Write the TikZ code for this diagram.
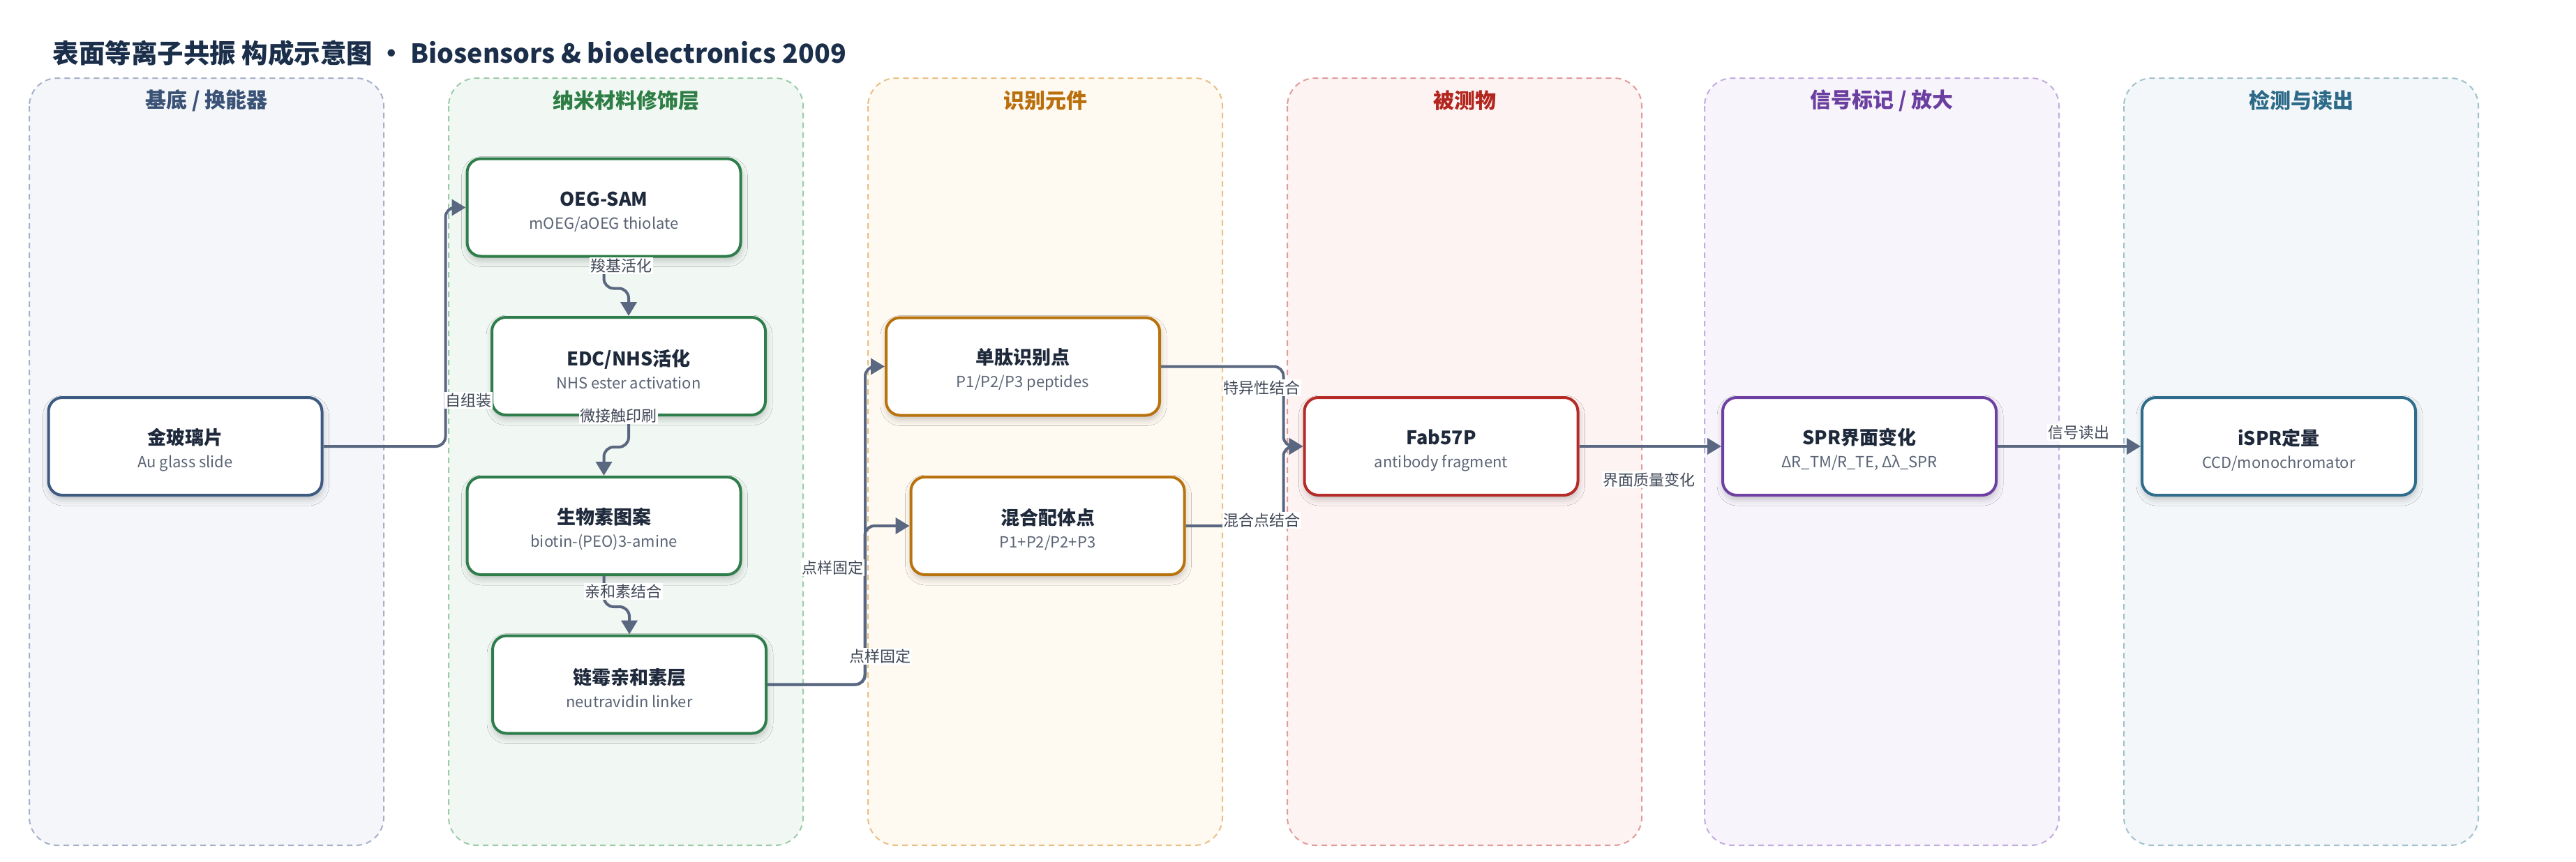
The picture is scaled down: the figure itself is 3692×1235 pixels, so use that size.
\documentclass[tikz,border=0pt]{standalone}
\usepackage{fontspec}
\setmainfont{Noto Sans CJK SC}
\usetikzlibrary{arrows.meta,shadows.blur}
\definecolor{titlec}{HTML}{1B2F4B}
\definecolor{ttl}{HTML}{1E293B}
\definecolor{subc}{HTML}{5B6475}
\definecolor{lblc}{HTML}{3F4756}
\definecolor{connc}{HTML}{5A6780}
\definecolor{laA}{HTML}{F4F6FA}\definecolor{lbA}{HTML}{A5B1C8}\definecolor{ltA}{HTML}{3A5275}\definecolor{nbA}{HTML}{3D5A80}
\definecolor{laB}{HTML}{F1F8F3}\definecolor{lbB}{HTML}{9DCBA9}\definecolor{ltB}{HTML}{2E7D45}\definecolor{nbB}{HTML}{2E7D4B}
\definecolor{laC}{HTML}{FEF9F1}\definecolor{lbC}{HTML}{E9C083}\definecolor{ltC}{HTML}{B96F0C}\definecolor{nbC}{HTML}{B8730E}
\definecolor{laD}{HTML}{FDF3F3}\definecolor{lbD}{HTML}{E29B9B}\definecolor{ltD}{HTML}{B3261E}\definecolor{nbD}{HTML}{B42B27}
\definecolor{laE}{HTML}{F7F4FB}\definecolor{lbE}{HTML}{C3ACE0}\definecolor{ltE}{HTML}{6B3FA0}\definecolor{nbE}{HTML}{6E40A2}
\definecolor{laF}{HTML}{F3F7F9}\definecolor{lbF}{HTML}{A3C1CD}\definecolor{ltF}{HTML}{2D6A89}\definecolor{nbF}{HTML}{2F6D8C}
\newcommand\ndtxt[2]{{\fontsize{27pt}{33pt}\selectfont\bfseries\color{ttl}\rule{0pt}{33pt}#1}\\{\fontsize{22pt}{33pt}\selectfont\color{subc}#2}}
\begin{document}
\begin{tikzpicture}[x=1pt,y=-1pt,
  lane/.style={line width=2pt, dash pattern=on 8pt off 6pt, rounded corners=40pt},
  lanetitle/.style={font=\fontsize{30pt}{36pt}\selectfont\bfseries},
  box/.style={draw, fill=white, line width=4pt, rounded corners=20pt, minimum width=392pt, minimum height=140pt, align=center, inner sep=0pt,
    font=\fontsize{22pt}{33pt}\selectfont,
    blur shadow={shadow xshift=1pt, shadow yshift=-6pt, shadow blur radius=9pt, shadow opacity=22}},
  conn/.style={draw=connc, line width=4pt, rounded corners=14pt, -{Triangle[length=20pt,width=23pt]}},
  lbl/.style={fill=white, inner sep=1.5pt, text=lblc, font=\fontsize{22pt}{26pt}\selectfont}
]
\useasboundingbox (0,0) rectangle (3692,1235);
\fill[white] (0,0) rectangle (3692,1235);

\node[anchor=west, text=titlec, font=\fontsize{37.5pt}{44pt}\selectfont\bfseries] (title) at (72,76) {表面等离子共振 构成示意图 • Biosensors \& bioelectronics 2009};

% lanes
\draw[lane, draw=lbA, fill=laA] (42,112) rectangle (550,1212);
\draw[lane, draw=lbB, fill=laB] (643,112) rectangle (1151,1212);
\draw[lane, draw=lbC, fill=laC] (1244,112) rectangle (1752,1212);
\draw[lane, draw=lbD, fill=laD] (1845,112) rectangle (2353,1212);
\draw[lane, draw=lbE, fill=laE] (2443,112) rectangle (2951,1212);
\draw[lane, draw=lbF, fill=laF] (3044,112) rectangle (3552,1212);
\node[lanetitle, text=ltA] (tA) at (296,144) {基底 / 换能器};
\node[lanetitle, text=ltB] (tB) at (897,144) {纳米材料修饰层};
\node[lanetitle, text=ltC] (tC) at (1498,144) {识别元件};
\node[lanetitle, text=ltD] (tD) at (2099,144) {被测物};
\node[lanetitle, text=ltE] (tE) at (2697,144) {信号标记 / 放大};
\node[lanetitle, text=ltF] (tF) at (3298,144) {检测与读出};

% nodes
\node[box, draw=nbA] (au) at (265.5,640) {\ndtxt{金玻璃片}{Au glass slide}};
\node[box, draw=nbB] (oeg) at (865.5,297.5) {\ndtxt{OEG-SAM}{mOEG/aOEG thiolate}};
\node[box, draw=nbB] (edc) at (901,525) {\ndtxt{EDC/NHS活化}{NHS ester activation}};
\node[box, draw=nbB] (bio) at (865.5,754) {\ndtxt{生物素图案}{biotin-(PEO)3-amine}};
\node[box, draw=nbB] (nav) at (902,981.5) {\ndtxt{链霉亲和素层}{neutravidin linker}};
\node[box, draw=nbC] (pep) at (1466,525.5) {\ndtxt{单肽识别点}{P1/P2/P3 peptides}};
\node[box, draw=nbC] (mix) at (1501.5,754) {\ndtxt{混合配体点}{P1+P2/P2+P3}};
\node[box, draw=nbD] (fab) at (2065.5,640) {\ndtxt{Fab57P}{antibody fragment}};
\node[box, draw=nbE] (spr) at (2665,640) {\ndtxt{SPR界面变化}{ΔR\_TM/R\_TE, Δλ\_SPR}};
\node[box, draw=nbF] (ispr) at (3266,640) {\ndtxt{iSPR定量}{CCD/monochromator}};

% connectors
\draw[conn] (au.east) -| ([xshift=-29pt]oeg.west) -- (oeg.west);
\draw[conn] (oeg.south) -- ++(0,44) -| (edc.north);
\draw[conn] (edc.south) -- ++(0,44) -| (bio.north);
\draw[conn] (bio.south) -- ++(0,44) -| (nav.north);
\draw[conn] (nav.east) -| ([xshift=-28pt]pep.west) -- (pep.west);
\draw[conn] (nav.east) -| ([xshift=-64pt]mix.west) -- (mix.west);
\draw[conn] (pep.east) -| ([xshift=-28pt]fab.west) -- (fab.west);
\draw[conn] (mix.east) -| ([xshift=-28pt]fab.west) -- (fab.west);
\draw[conn] (fab.east) -- (spr.west);
\draw[conn] (spr.east) -- (ispr.west);

% labels
\node[lbl] (l1) at (671,574) {自组装};
\node[lbl] (l2) at (890,381) {羧基活化};
\node[lbl] (l3) at (886,596) {微接触印刷};
\node[lbl] (l4) at (893,848) {亲和素结合};
\node[lbl] (l5) at (1193,814) {点样固定};
\node[lbl] (l6) at (1261,941) {点样固定};
\node[lbl] (l7) at (1808,556) {特异性结合};
\node[lbl] (l8) at (1808,746) {混合点结合};
\node[lbl] (l9) at (2363,688) {界面质量变化};
\node[lbl] (l10) at (2979,620) {信号读出};
\end{tikzpicture}
\end{document}
